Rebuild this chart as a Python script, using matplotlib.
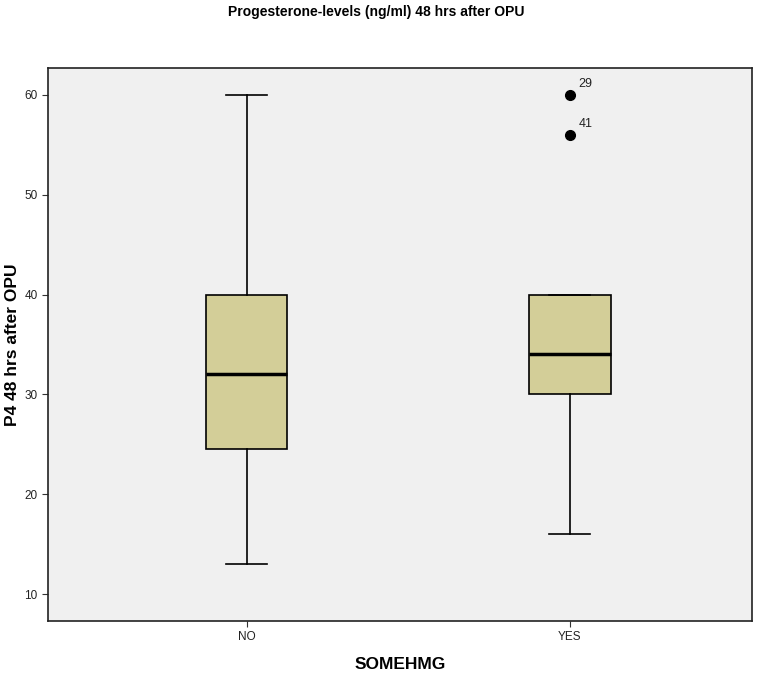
import matplotlib
matplotlib.use("Agg")
import matplotlib.pyplot as plt

categories = ["NO", "YES"]
whislo = [13, 16]
q1 = [24.5, 30]
med = [32, 34]
q3 = [40, 40]
whishi = [60, 40]
outlier_vals = [[], [60, 56]]
outlier_ids = [[], ["29", "41"]]
yticks = [10, 20, 30, 40, 50, 60]

plt.rcParams['font.family'] = ['Liberation Sans', 'DejaVu Sans']
W, H = 769, 678
fig = plt.figure(figsize=(W / 100, H / 100), dpi=100)
ax = fig.add_axes([48 / W, 1 - 621 / H, (752 - 48) / W, (621 - 68) / H])
ax.set_facecolor('#F0F0F0')

stats = []
for i, c in enumerate(categories):
    stats.append(dict(label=c, whislo=whislo[i], q1=q1[i], med=med[i], q3=q3[i],
                      whishi=whishi[i], fliers=outlier_vals[i]))
pos = [1, 2]
ax.bxp(stats, positions=pos, widths=0.253, patch_artist=True, showfliers=False,
       boxprops=dict(facecolor='#D3CE98', edgecolor='black', linewidth=1.2),
       medianprops=dict(color='black', linewidth=2.5),
       whiskerprops=dict(color='black', linewidth=1.2),
       capprops=dict(color='black', linewidth=1.2), capwidths=0.127)
for i, (vals, ids) in enumerate(zip(outlier_vals, outlier_ids)):
    for v, t in zip(vals, ids):
        ax.plot(pos[i], v, 'o', color='black', markersize=7)
        ax.annotate(t, (pos[i], v), xytext=(6, 6), textcoords='offset points',
                    fontsize=9, color='#222222')

ax.set_xlim(0.386, 2.563)
ax.set_ylim(7.3, 62.7)
ax.set_yticks(yticks)
ax.set_xticks(pos)
ax.set_xticklabels(categories)
ax.tick_params(axis='both', labelsize=8.5, length=4, color='#333333', labelcolor='#222222')
for s in ax.spines.values():
    s.set_linewidth(1.2)
    s.set_color('#222222')
ax.set_ylabel('P4 48 hrs after OPU', fontsize=12.5, fontweight='bold', va='center')
ax.yaxis.set_label_coords((13 - 48) / 704, 0.5)
ax.set_xlabel('SOMEHMG', fontsize=12.5, fontweight='bold', labelpad=10)
fig.text(376 / W, 1 - 12 / H, 'Progesterone-levels (ng/ml) 48 hrs after OPU',
         ha='center', va='center', fontsize=10, fontweight='bold')
fig.savefig('out.png', dpi=100, facecolor='white')
